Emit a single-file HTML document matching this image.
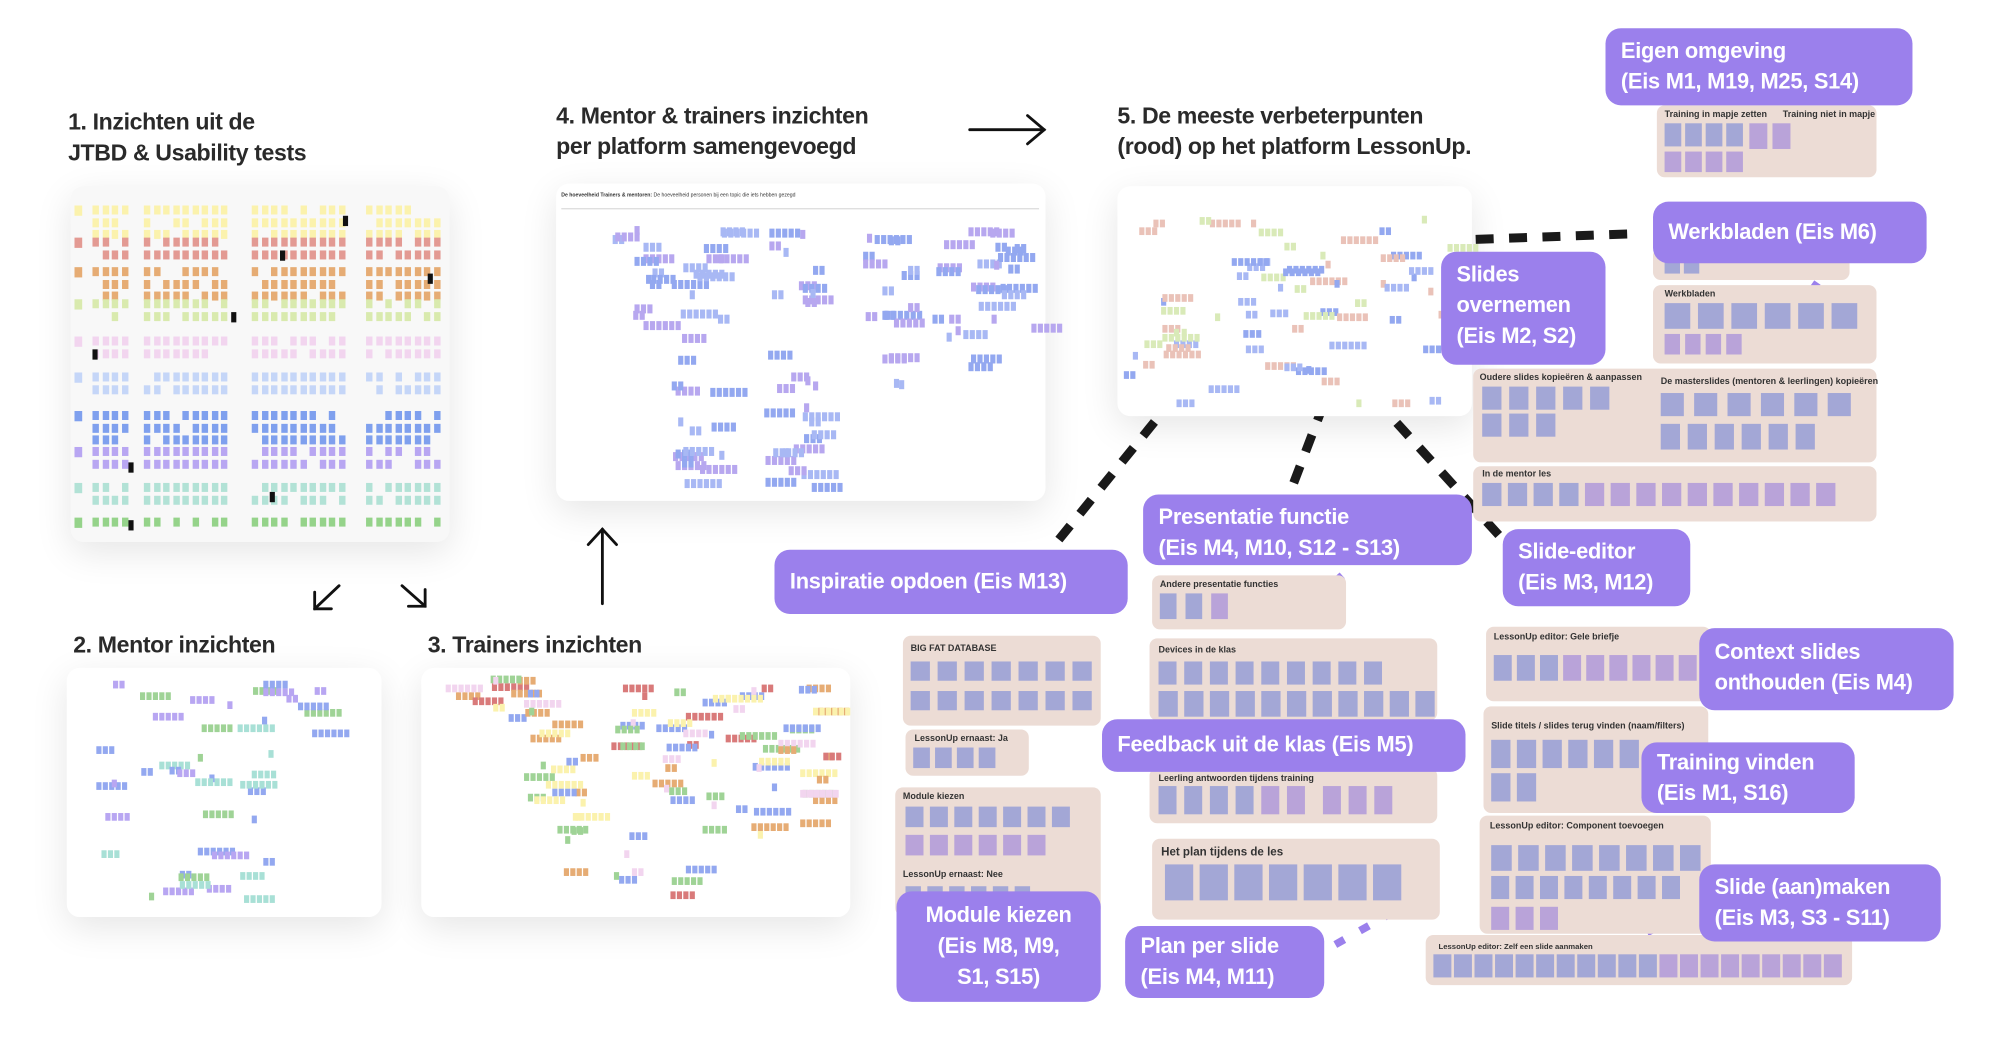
<!DOCTYPE html>
<html><head><meta charset="utf-8">
<style>
html,body{margin:0;padding:0;background:#fff;overflow:hidden}
#root{position:absolute;left:0;top:0;width:1568px;height:818px;transform:scale(1.2844,1.2844);transform-origin:0 0;font-family:"Liberation Sans",sans-serif}
.t{position:absolute;font-weight:bold;color:#2a2a2a;font-size:18px;line-height:24px;letter-spacing:-0.3px}
.b{position:absolute;border-radius:10px;box-shadow:0 8px 28px rgba(0,0,0,0.10)}
.p{position:absolute;background:#ecdcd5;border-radius:6px}
.pl{position:absolute;font-size:7px;font-weight:bold;color:#333}
.L{position:absolute;background:#9b80ec;color:#fff;font-weight:bold;font-size:17px;line-height:24px;border-radius:12px;padding:6px 12px;box-sizing:border-box;letter-spacing:-0.2px}
.s{position:absolute}
</style></head><body><div id="root">
<svg width="1568" height="818" style="position:absolute;left:0;top:0">
<g stroke="#1a1a1a" stroke-width="7" stroke-dasharray="14,12" fill="none">
<line x1="1045" y1="190" x2="1272" y2="182"/>
<line x1="948" y1="268" x2="818" y2="428"/>
<line x1="1040" y1="290" x2="1000" y2="395"/>
<line x1="1070" y1="310" x2="1170" y2="420"/>
</g>
<g stroke="#9b80ec" stroke-width="6" stroke-dasharray="8,14" fill="none">
<line x1="1390" y1="95" x2="1365" y2="130"/>
<line x1="1415" y1="220" x2="1380" y2="270"/>
<line x1="1195" y1="290" x2="1245" y2="345"/>
<line x1="1045" y1="448" x2="1015" y2="475"/>
<line x1="1050" y1="600" x2="1015" y2="630"/>
<line x1="790" y1="500" x2="790" y2="512"/>
<line x1="800" y1="630" x2="815" y2="695"/>
<line x1="1085" y1="710" x2="1035" y2="738"/>
<line x1="1245" y1="600" x2="1280" y2="600"/>
<line x1="1300" y1="518" x2="1325" y2="515"/>
<line x1="1330" y1="705" x2="1245" y2="742"/>
</g>
<g stroke="#111" stroke-width="2.2" fill="none" stroke-linecap="round">
<line x1="755" y1="101" x2="813" y2="101"/><polyline points="800,90 813,101 800,112"/>
<line x1="469" y1="470" x2="469" y2="412"/><polyline points="458,424 469,412 480,424"/>
<line x1="264" y1="456" x2="245" y2="474"/><polyline points="245,461 245,474 258,474"/>
<line x1="313" y1="456" x2="331" y2="472"/><polyline points="331,459 331,472 318,472"/>
</g>
<g stroke="#222" stroke-width="1.3" fill="none">
<rect x="988" y="172" width="56" height="57" rx="12"/>
<rect x="1045" y="200" width="44" height="42" rx="10"/>
<rect x="988" y="232" width="82" height="76" rx="12"/>
<rect x="956" y="238" width="30" height="20" rx="8"/>
<rect x="931" y="262" width="40" height="22" rx="10"/>
<rect x="934" y="246" width="14" height="12" rx="5"/>
</g>
</svg>

<div class="t" style="left:53px;top:83px">1. Inzichten uit de<br>JTBD &amp; Usability tests</div>
<div class="t" style="left:433px;top:78px">4. Mentor &amp; trainers inzichten<br>per platform samengevoegd</div>
<div class="t" style="left:870px;top:78px">5. De meeste verbeterpunten<br>(rood) op het platform LessonUp.</div>
<div class="t" style="left:57px;top:490px">2. Mentor inzichten</div>
<div class="t" style="left:333px;top:490px">3. Trainers inzichten</div>

<div class="b" id="b1" style="left:55px;top:145px;width:295px;height:277px;background:#f8f8f8"></div>
<div class="b" id="b4" style="left:433px;top:143px;width:381px;height:247px;background:#fff"></div>
<div class="b" id="b5" style="left:870px;top:145px;width:276px;height:179px;background:#fff"></div>
<div class="b" id="b2" style="left:52px;top:520px;width:245px;height:194px;background:#fff"></div>
<div class="b" id="b3" style="left:328px;top:520px;width:334px;height:194px;background:#fff"></div>
<div style="position:absolute;left:437px;top:149px;font-size:4px;color:#333;font-weight:bold">De hoeveelheid Trainers &amp; mentoren: <span style="font-weight:normal">De hoeveelheid personen bij een topic die iets hebben gezegd</span></div>

<div class="p" id="p1" style="left:1290px;top:82px;width:171px;height:56px"></div>
<div class="pl" style="left:1296px;top:86px">Training in mapje zetten</div><div class="pl" style="left:1388px;top:86px">Training niet in mapje</div>
<div class="p" id="p2" style="left:1287px;top:193px;width:153px;height:25px"></div>
<div class="p" id="p3" style="left:1287px;top:222px;width:174px;height:61px"></div>
<div class="pl" style="left:1296px;top:226px">Werkbladen</div>
<div class="p" id="p4" style="left:1147px;top:287px;width:314px;height:73px"></div>
<div class="pl" style="left:1152px;top:291px">Oudere slides kopieëren &amp; aanpassen</div><div class="pl" style="left:1293px;top:294px">De masterslides (mentoren &amp; leerlingen) kopieëren</div>
<div class="p" id="p5" style="left:1147px;top:363px;width:314px;height:43px"></div>
<div class="pl" style="left:1154px;top:366px">In de mentor les</div>
<div class="p" id="p6" style="left:897px;top:448px;width:151px;height:42px"></div>
<div class="pl" style="left:903px;top:452px">Andere presentatie functies</div>
<div class="p" id="p7" style="left:703px;top:495px;width:154px;height:70px"></div>
<div class="pl" style="left:709px;top:502px">BIG FAT DATABASE</div>
<div class="p" id="p8" style="left:705px;top:568px;width:96px;height:36px"></div>
<div class="pl" style="left:712px;top:572px">LessonUp ernaast: Ja</div>
<div class="p" id="p9" style="left:697px;top:613px;width:160px;height:100px"></div>
<div class="pl" style="left:703px;top:617px">Module kiezen</div><div class="pl" style="left:703px;top:678px">LessonUp ernaast: Nee</div>
<div class="p" id="p10" style="left:895px;top:497px;width:224px;height:64px"></div>
<div class="pl" style="left:902px;top:503px">Devices in de klas</div>
<div class="p" id="p11" style="left:895px;top:598px;width:224px;height:43px"></div>
<div class="pl" style="left:902px;top:603px">Leerling antwoorden tijdens training</div>
<div class="p" id="p12" style="left:897px;top:653px;width:224px;height:63px"></div>
<div class="pl" style="left:904px;top:658px;font-size:9px">Het plan tijdens de les</div>
<div class="p" id="p13" style="left:1157px;top:488px;width:175px;height:58px"></div>
<div class="pl" style="left:1163px;top:493px">LessonUp editor: Gele briefje</div>
<div class="p" id="p14" style="left:1155px;top:550px;width:175px;height:83px"></div>
<div class="pl" style="left:1161px;top:562px">Slide titels / slides terug vinden (naam/filters)</div>
<div class="p" id="p15" style="left:1152px;top:635px;width:180px;height:92px"></div>
<div class="pl" style="left:1160px;top:640px">LessonUp editor: Component toevoegen</div>
<div class="p" id="p16" style="left:1110px;top:728px;width:332px;height:39px"></div>
<div class="pl" style="left:1120px;top:735px;font-size:6px">LessonUp editor: Zelf een slide aanmaken</div>

<div class="L" style="left:1250px;top:22px;width:239px;height:60px">Eigen omgeving<br>(Eis M1, M19, M25, S14)</div>
<div class="L" style="left:1287px;top:157px;width:213px;height:48px;padding-top:12px">Werkbladen (Eis M6)</div>
<div class="L" style="left:1122px;top:196px;width:128px;height:88px;line-height:24px">Slides<br>overnemen<br>(Eis M2, S2)</div>
<div class="L" style="left:890px;top:385px;width:256px;height:55px">Presentatie functie<br>(Eis M4, M10, S12 - S13)</div>
<div class="L" style="left:1170px;top:412px;width:146px;height:60px">Slide-editor<br>(Eis M3, M12)</div>
<div class="L" style="left:603px;top:428px;width:275px;height:50px;padding-top:13px">Inspiratie opdoen (Eis M13)</div>
<div class="L" style="left:1323px;top:489px;width:198px;height:64px;padding-top:7px">Context slides<br>onthouden (Eis M4)</div>
<div class="L" style="left:858px;top:560px;width:283px;height:41px;padding-top:8px">Feedback uit de klas (Eis M5)</div>
<div class="L" style="left:1278px;top:578px;width:166px;height:55px;padding-top:4px">Training vinden<br>(Eis M1, S16)</div>
<div class="L" style="left:1323px;top:673px;width:188px;height:60px">Slide (aan)maken<br>(Eis M3, S3 - S11)</div>
<div class="L" style="left:698px;top:694px;width:159px;height:86px;text-align:center;padding-top:7px">Module kiezen<br>(Eis M8, M9,<br>S1, S15)</div>
<div class="L" style="left:876px;top:721px;width:155px;height:56px;padding-top:4px">Plan per slide<br>(Eis M4, M11)</div>
</div>
<script>
(function(){
var R=document.getElementById('root');
var seed=7;function rnd(){seed=(seed*9301+49297)%233280;return seed/233280;}
function box(x,y,w,h,c){var d=document.createElement('div');d.className='s';d.style.cssText='left:'+x+'px;top:'+y+'px;width:'+w+'px;height:'+h+'px;background:'+c;R.insertBefore(d,R.querySelector('.L'));}
var rows=[[160,'#fbf2ad',3],[185,'#e39a93',2],[208,'#e6ac74',3],[233,'#d9eaae',2],[262,'#f2d5ef',2],[290,'#c5d6f8',2],[320,'#7fa0ee',3],[348,'#b8a6f2',2],[376,'#b2e2d6',2],[403,'#95d38a',1]];
var groups=[[72,105],[112,178],[196,272],[285,348]];
rows.forEach(function(r){box(58,r[0],6,8,r[1]);groups.forEach(function(g){for(var k=0;k<r[2];k++)for(var x=g[0];x<g[1]-4;x+=7.5){if(rnd()<0.85)box(x,r[0]+k*9.5,5,7,r[1]);}});});
[[267,168],[218,195],[333,213],[180,243],[72,272],[100,360],[210,383],[100,405]].forEach(function(p){box(p[0],p[1],4,8,'#111')});
function scatter(x0,y0,w,h,cols,n,sw,sh){for(var i=0;i<n;i++){var x=x0+rnd()*w,y=y0+rnd()*h;var c=cols[Math.floor(rnd()*cols.length)];var len=1+Math.floor(rnd()*6);for(var j=0;j<len;j++)box(x+j*(sw+1),y,sw,sh,c);}}
box(437,162,372,1,'#ddd');
var bl=['#93a8f0','#a8b8f4','#b7a7ef'];
[[445,175,40,20],[492,175,20,80],[522,175,40,200],[595,175,40,210],[668,175,40,130],[725,175,40,110],[770,175,35,80]].forEach(function(c){scatter(c[0],c[1],c[2],c[3],bl,Math.floor(c[3]/7),4,7)});
var b5=['#93a8f0','#a8b8f4','#d9eab8','#eac2b8'];
scatter(875,168,255,145,b5,70,4,6);
var mc=['#b8a6f2','#9fd396','#a8e0d6','#93a8f0'];
scatter(72,530,60,170,mc,12,4,6);scatter(130,530,80,170,mc,25,4,6);scatter(195,530,60,60,mc,8,4,6);
var tc=['#fbf2ad','#e6ac74','#93a8f0','#f2d5ef','#9fd396','#d97a7a'];
scatter(332,525,60,20,tc,4,4,6);scatter(378,525,30,50,tc,6,4,6);scatter(405,528,50,150,tc,25,4,6);scatter(475,528,60,170,tc,30,4,6);scatter(545,528,50,120,tc,22,4,6);scatter(600,528,45,110,tc,18,4,6);
var sb='#a3a7d6',sp='#b9a3d9';
function row(x,y,n,w,h,gap,c){for(var i=0;i<n;i++)box(x+i*(w+gap),y,w,h,typeof c=='function'?c(i):c);}
row(1296,96,4,13,18,3,sb);row(1362,96,2,14,20,4,sp);row(1296,118,4,13,16,3,sp);
row(1296,199,2,12,14,3,sb);
row(1296,236,6,20,20,6,sb);row(1296,260,4,12,16,4,sp);
row(1154,301,5,15,18,6,sb);row(1154,322,3,15,18,6,sb);row(1293,306,6,18,18,8,sb);row(1293,330,6,15,20,6,sb);
row(1154,376,14,15,18,5,function(i){return i<4?sb:sp});
row(903,462,3,13,20,7,function(i){return i==2?sp:sb});
row(709,515,7,15,15,6,sb);row(709,538,7,15,15,6,sb);
row(711,582,4,13,16,4,sb);
row(705,628,7,14,16,5,sb);row(705,650,6,14,16,5,sp);row(705,690,6,12,10,5,sb);
row(902,515,9,14,18,6,sb);row(902,538,11,15,20,5,sb);
row(902,612,6,14,22,6,function(i){return i<4?sb:sp});row(1030,612,3,14,22,6,sp);
row(907,673,7,22,28,5,sb);
row(1163,510,9,14,20,4,function(i){return i<3?sb:sp});
row(1161,576,6,15,22,5,sb);row(1161,602,2,15,22,5,sb);
row(1161,658,8,16,20,5,sb);row(1161,682,8,14,18,5,sb);row(1161,706,3,14,18,5,sp);
row(1116,743,20,14,18,2,function(i){return i<11?sb:sp});
})();
</script>
</body></html>
